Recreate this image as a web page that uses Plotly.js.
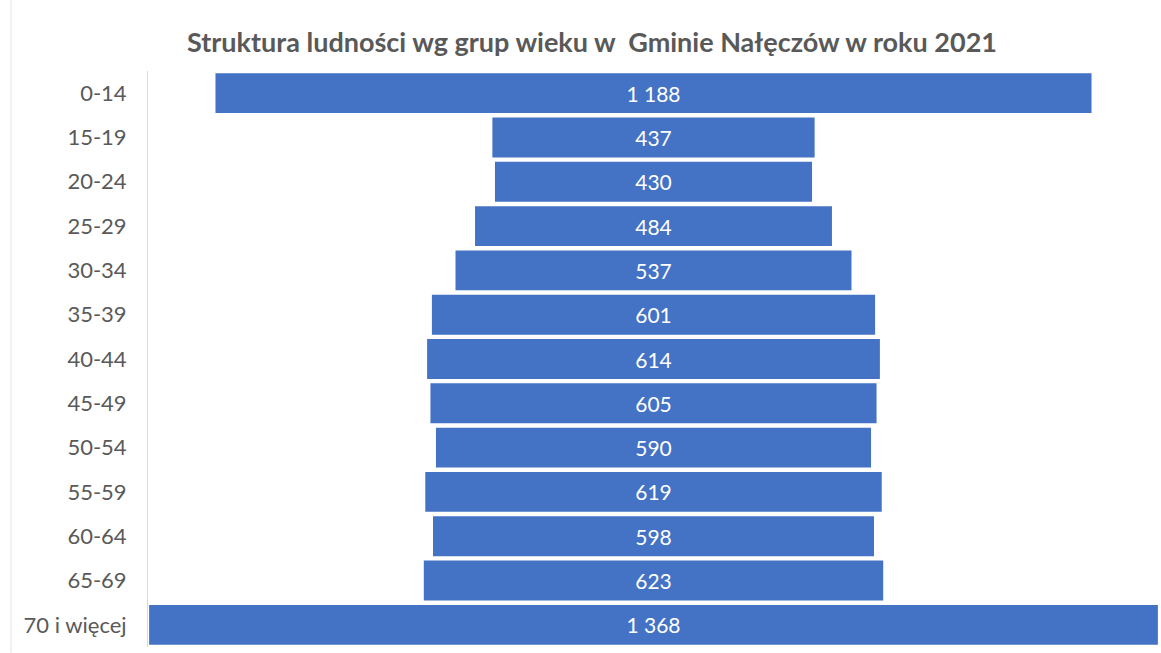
<!DOCTYPE html>
<html><head><meta charset="utf-8">
<script src="https://cdn.plot.ly/plotly-3.0.1.min.js"></script>
<style>html,body{margin:0;padding:0;background:#fff;}#chart{width:1161px;height:653px;}</style>
</head><body><div id="chart"></div>
<script>
const categories = ["0-14","15-19","20-24","25-29","30-34","35-39","40-44","45-49","50-54","55-59","60-64","65-69","70 i więcej"];
const values = [1188,437,430,484,537,601,614,605,590,619,598,623,1368];
const labels = ["1 188","437","430","484","537","601","614","605","590","619","598","623","1 368"];

const FONT = "Lato, 'Open Sans', sans-serif";
const trace = {
  type: "funnel",
  y: categories,
  x: values,
  text: labels,
  textinfo: "text",
  textposition: "inside",
  insidetextanchor: "middle",
  constraintext: "none",
  textfont: {family: FONT, size: 21, color: "#ffffff"},
  marker: {color: "#4472C4", line: {width: 0}},
  connector: {visible: false},
  hoverinfo: "x+y"
};
const PW = 1161 - 148 - 2;
const layout = {
  width: 1161, height: 653,
  margin: {l: 148, r: 2, t: 71, b: 6},
  paper_bgcolor: "#ffffff", plot_bgcolor: "#ffffff",
  funnelgap: 0.1,
  title: {text: "<b>Struktura ludności wg grup wieku w  Gminie Nałęczów w roku 2021</b>",
          font: {family: FONT, size: 27, color: "#595959"},
          xref: "container", x: 592/1161, xanchor: "center",
          yref: "container", y: 1 - 43/653, yanchor: "middle"},
  xaxis: {range: [-685.5, 685.5], visible: false, fixedrange: true},
  yaxis: {showline: true, linecolor: "#D9D9D9", linewidth: 1, ticks: "", ticklen: 0,
          tickfont: {family: FONT, size: 22, color: "#595959"},
          ticklabelstandoff: 16, showgrid: false, zeroline: false},
  showlegend: false,
  shapes: [{type: "line", xref: "paper", yref: "paper", x0: (11-148)/PW, x1: (11-148)/PW, y0: -0.01, y1: 1.2,
            line: {color: "#E3E3E3", width: 1}}]
};
Plotly.newPlot("chart", [trace], layout, {displayModeBar: false, staticPlot: true});
</script></body></html>
